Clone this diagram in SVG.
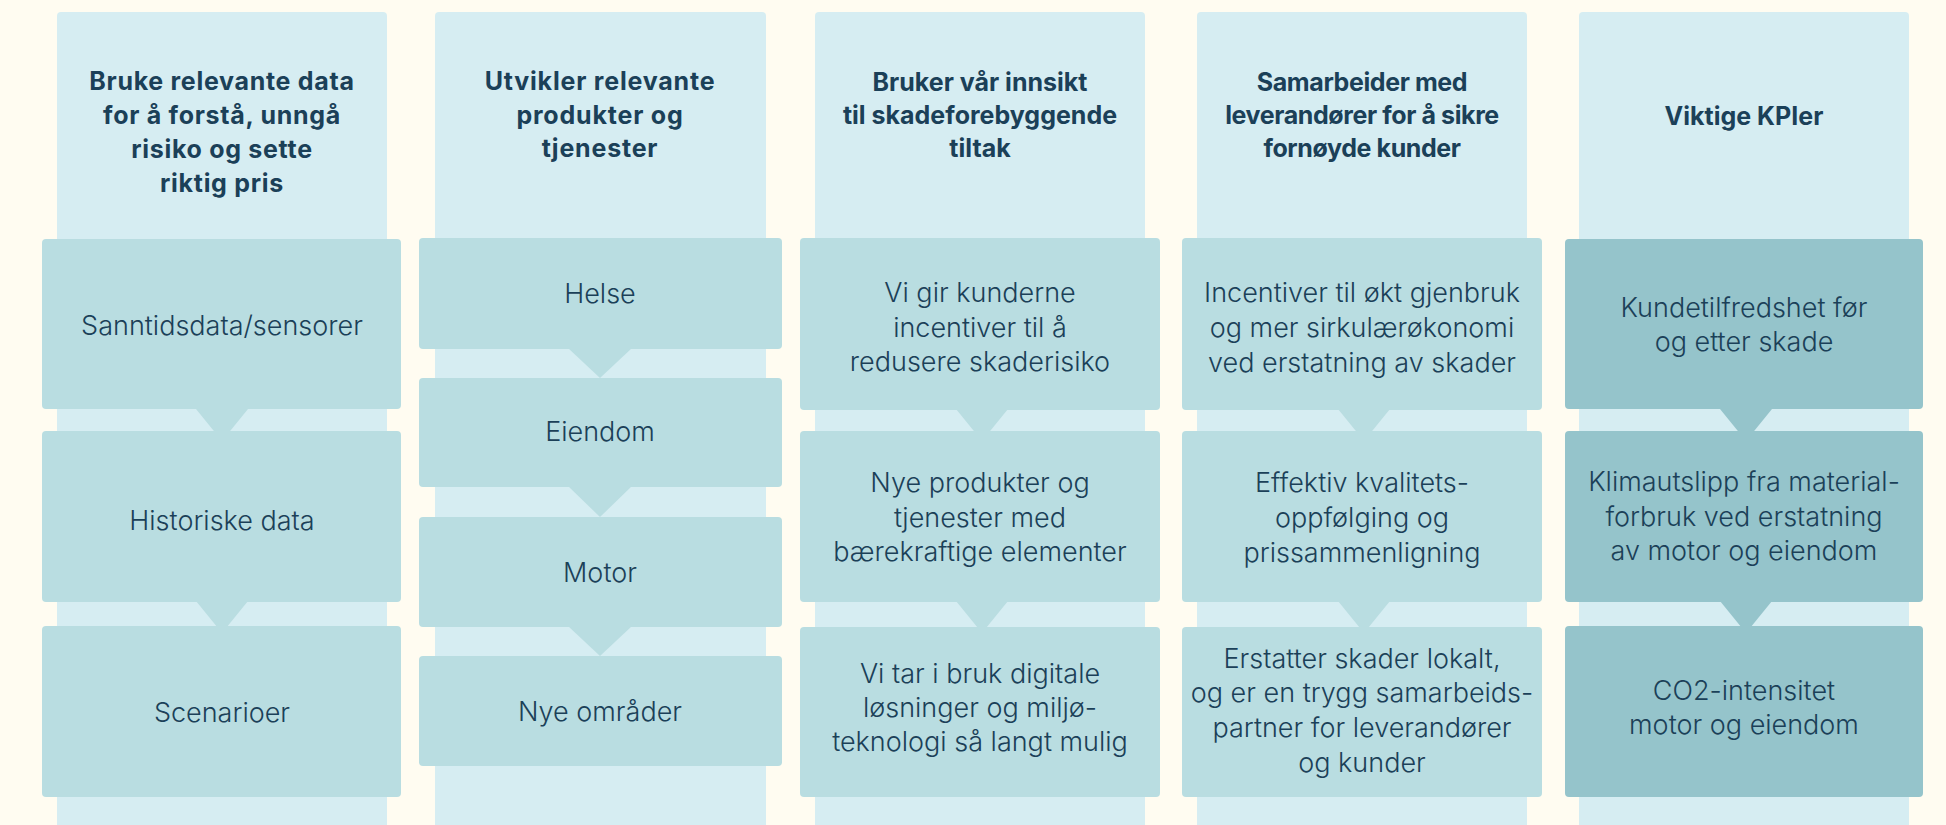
<svg xmlns="http://www.w3.org/2000/svg" width="1946" height="825" viewBox="0 0 1946 825">
<style>
.bg{fill:#FFFCF1}
.col{fill:#D6EDF2}
.box{fill:#B9DDE1}
.kpi{fill:#95C4CB}
.h{font-family:Inter,"Liberation Sans",sans-serif;font-weight:700;font-size:25px;fill:#1B4058;text-anchor:middle}
.t{font-family:Inter,"Liberation Sans",sans-serif;font-weight:300;font-size:27px;fill:#1B4058;text-anchor:middle}
</style>
<rect class="bg" x="0" y="0" width="1946" height="825"/>
<g id="columns">
<rect class="col" x="57" y="12" width="330" height="830" rx="4"/>
<rect class="col" x="435" y="12" width="331" height="830" rx="4"/>
<rect class="col" x="815" y="12" width="330" height="830" rx="4"/>
<rect class="col" x="1197" y="12" width="330" height="830" rx="4"/>
<rect class="col" x="1579" y="12" width="330" height="830" rx="4"/>
</g>
<g id="headers">
<text class="h" letter-spacing="0.7"><tspan x="222" y="90">Bruke relevante data</tspan><tspan x="222" y="124">for å forstå, unngå</tspan><tspan x="222" y="158">risiko og sette</tspan><tspan x="222" y="192">riktig pris</tspan></text>
<text class="h" letter-spacing="0.8"><tspan x="600" y="90">Utvikler relevante</tspan><tspan x="600" y="124">produkter og</tspan><tspan x="600" y="157">tjenester</tspan></text>
<text class="h"><tspan x="980" y="91">Bruker vår innsikt</tspan><tspan x="980" y="124">til skadeforebyggende</tspan><tspan x="980" y="157">tiltak</tspan></text>
<text class="h" font-size="24" letter-spacing="-0.4"><tspan x="1362" y="91">Samarbeider med</tspan><tspan x="1362" y="124">leverandører for å sikre</tspan><tspan x="1362" y="157">fornøyde kunder</tspan></text>
<text class="h" x="1744" y="125">Viktige KPIer</text>
</g>
<g id="connectors">
<polygon class="box" points="196,409 248,409 222,441"/>
<polygon class="box" points="196,601 248,601 222,633"/>
<polygon class="box" points="568,348 632,348 600,378"/>
<polygon class="box" points="568,486 632,486 600,517"/>
<polygon class="box" points="568,626 632,626 600,656"/>
<polygon class="box" points="956,409 1008,409 982,441"/>
<polygon class="box" points="956,601 1008,601 982,633"/>
<polygon class="box" points="1338,409 1390,409 1364,441"/>
<polygon class="box" points="1338,601 1390,601 1364,633"/>
<polygon class="kpi" points="1720,409 1772,409 1746,441"/>
<polygon class="kpi" points="1720,601 1772,601 1746,633"/>
</g>
<g id="c1-n1"><rect class="box" x="42" y="239" width="359" height="170" rx="4"/><text class="t" x="222" y="335">Sanntidsdata/sensorer</text></g>
<g id="c1-n2"><rect class="box" x="42" y="431" width="359" height="171" rx="4"/><text class="t" x="222" y="530">Historiske data</text></g>
<g id="c1-n3"><rect class="box" x="42" y="626" width="359" height="171" rx="4"/><text class="t" x="222" y="722">Scenarioer</text></g>

<g id="c2-n1"><rect class="box" x="419" y="238" width="363" height="111" rx="4"/><text class="t" x="600" y="303">Helse</text></g>
<g id="c2-n2"><rect class="box" x="419" y="378" width="363" height="109" rx="4"/><text class="t" x="600" y="441">Eiendom</text></g>
<g id="c2-n3"><rect class="box" x="419" y="517" width="363" height="110" rx="4"/><text class="t" x="600" y="582">Motor</text></g>
<g id="c2-n4"><rect class="box" x="419" y="656" width="363" height="110" rx="4"/><text class="t" x="600" y="721">Nye områder</text></g>

<g id="c3-n1"><rect class="box" x="800" y="238" width="360" height="172" rx="4"/><text class="t"><tspan x="980" y="302">Vi gir kunderne</tspan><tspan x="980" y="337">incentiver til å</tspan><tspan x="980" y="371">redusere skaderisiko</tspan></text></g>
<g id="c3-n2"><rect class="box" x="800" y="431" width="360" height="171" rx="4"/><text class="t"><tspan x="980" y="492">Nye produkter og</tspan><tspan x="980" y="527">tjenester med</tspan><tspan x="980" y="561">bærekraftige elementer</tspan></text></g>
<g id="c3-n3"><rect class="box" x="800" y="627" width="360" height="170" rx="4"/><text class="t"><tspan x="980" y="683">Vi tar i bruk digitale</tspan><tspan x="980" y="717">løsninger og miljø-</tspan><tspan x="980" y="751">teknologi så langt mulig</tspan></text></g>

<g id="c4-n1"><rect class="box" x="1182" y="238" width="360" height="172" rx="4"/><text class="t"><tspan x="1362" y="302">Incentiver til økt gjenbruk</tspan><tspan x="1362" y="337">og mer sirkulærøkonomi</tspan><tspan x="1362" y="372">ved erstatning av skader</tspan></text></g>
<g id="c4-n2"><rect class="box" x="1182" y="431" width="360" height="171" rx="4"/><text class="t"><tspan x="1362" y="492">Effektiv kvalitets-</tspan><tspan x="1362" y="527">oppfølging og</tspan><tspan x="1362" y="562">prissammenligning</tspan></text></g>
<g id="c4-n3"><rect class="box" x="1182" y="627" width="360" height="170" rx="4"/><text class="t"><tspan x="1362" y="668">Erstatter skader lokalt,</tspan><tspan x="1362" y="702">og er en trygg samarbeids-</tspan><tspan x="1362" y="737">partner for leverandører</tspan><tspan x="1362" y="772">og kunder</tspan></text></g>

<g id="c5-n1"><rect class="kpi" x="1565" y="239" width="358" height="170" rx="4"/><text class="t"><tspan x="1744" y="317">Kundetilfredshet før</tspan><tspan x="1744" y="351">og etter skade</tspan></text></g>
<g id="c5-n2"><rect class="kpi" x="1565" y="431" width="358" height="171" rx="4"/><text class="t"><tspan x="1744" y="491">Klimautslipp fra material-</tspan><tspan x="1744" y="526">forbruk ved erstatning</tspan><tspan x="1744" y="560">av motor og eiendom</tspan></text></g>
<g id="c5-n3"><rect class="kpi" x="1565" y="626" width="358" height="171" rx="4"/><text class="t"><tspan x="1744" y="700">CO2-intensitet</tspan><tspan x="1744" y="734">motor og eiendom</tspan></text></g>
</svg>
